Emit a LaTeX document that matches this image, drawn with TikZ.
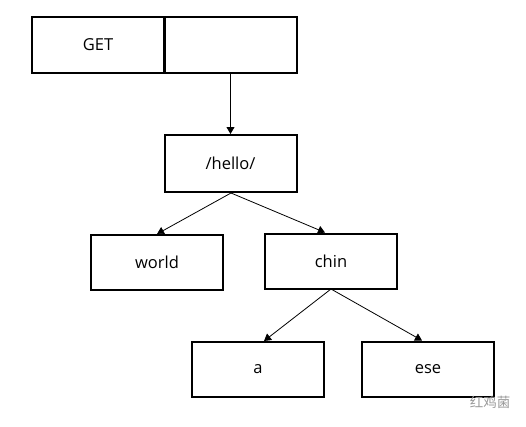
\documentclass[tikz,border=0pt]{standalone}
\usepackage{fontspec}
\setmainfont{Open Sans}
\newfontfamily\cjk{Noto Sans CJK SC}
\usetikzlibrary{arrows.meta}
\begin{document}
\begin{tikzpicture}[x=1pt,y=-1pt,
  box/.style={draw,line width=2pt,minimum width=132pt,minimum height=55pt,inner sep=0pt,font=\fontsize{16.5}{19}\selectfont},
  link/.style={line width=0.8pt,-{Triangle[length=7pt,width=8pt]}}]
\useasboundingbox (0,0) rectangle (526,426);
\node[box,minimum height=56pt] (get) at (98,45) {GET};
\node[box,minimum height=56pt] (empty) at (230.5,45) {};
\node[box,minimum height=57pt] (hello) at (230.5,163.5) {/hello/};
\node[box] (world) at (157,262.5) {world};
\node[box] (chin) at (331,261) {chin};
\node[box] (a) at (258,369.5) {a};
\node[box] (ese) at (428,369) {ese};
\coordinate (hb) at (231,193);
\coordinate (cb) at (331,289);
\draw[link] (empty.south) -- (hello.north);
\draw[link] (hb) -- (world.north);
\draw[link] (hb) -- ([xshift=-6pt]chin.north);
\draw[link] (cb) -- ([xshift=6pt]a.north);
\draw[link] (cb) -- ([xshift=-6pt]ese.north);
\node[text=black!40,font=\cjk\fontsize{13.5}{15}\selectfont] (wm) at (490,402) {红鸡菌};
\end{tikzpicture}
\end{document}
